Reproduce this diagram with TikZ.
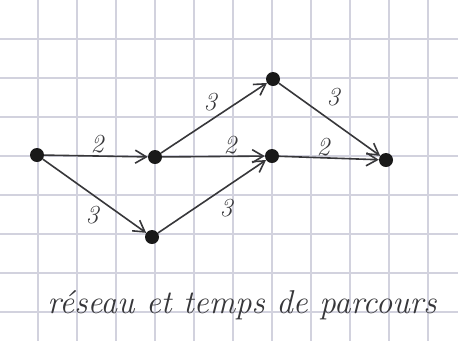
\documentclass[tikz,border=0pt]{standalone}
\usepackage{tikz}
\usetikzlibrary{arrows.meta}

\definecolor{gridcol}{RGB}{210,210,222}
\definecolor{inkcol}{RGB}{55,55,58}

\begin{document}
\begin{tikzpicture}[x=1pt, y=-1pt,
  sommet/.style={circle, fill=black!90, inner sep=0pt, minimum size=14pt},
  poids/.style={font=\fontsize{26}{26}\selectfont\itshape, text=inkcol},
  ar/.style={-{Straight Barb[length=11pt, width=13pt]}, inkcol, line width=1.6pt, shorten >=0pt}]

% paper and squares
\useasboundingbox (0,0) rectangle (458,341);
\fill[white] (0,0) rectangle (458,341);
\foreach \k in {0,...,10}
  \draw[gridcol, line width=1.3pt] (38+39*\k,0) -- (38+39*\k,341);
\foreach \k in {0,...,7}
  \draw[gridcol, line width=1.3pt] (0,39+39*\k) -- (458,39+39*\k);

% summits
\node[sommet] (a) at (37,155) {};
\node[sommet] (b) at (155,157) {};
\node[sommet] (c) at (152,237) {};
\node[sommet] (d) at (273,79) {};
\node[sommet] (e) at (272,156) {};
\node[sommet] (f) at (386,160) {};

\draw[ar] (a) -- (b);
\draw[ar] (a) -- (c);
\draw[ar] (b) -- (d);
\draw[ar] (b) -- (e);
\draw[ar] (c) -- (e);
\draw[ar] (d) -- (f);
\draw[ar] (e) -- (f);

% durations
\node[poids] (lab) at (97,144) {2};
\node[poids] (lac) at (92,215) {3};
\node[poids] (lbd) at (210,102) {3};
\node[poids] (lbe) at (230,145) {2};
\node[poids] (lce) at (226,208) {3};
\node[poids] (ldf) at (333,97) {3};
\node[poids] (lef) at (323,147) {2};

\node[font=\fontsize{33}{34}\selectfont\itshape, text=inkcol] (titre) at (242,305) {réseau et temps de parcours};
\end{tikzpicture}
\end{document}
